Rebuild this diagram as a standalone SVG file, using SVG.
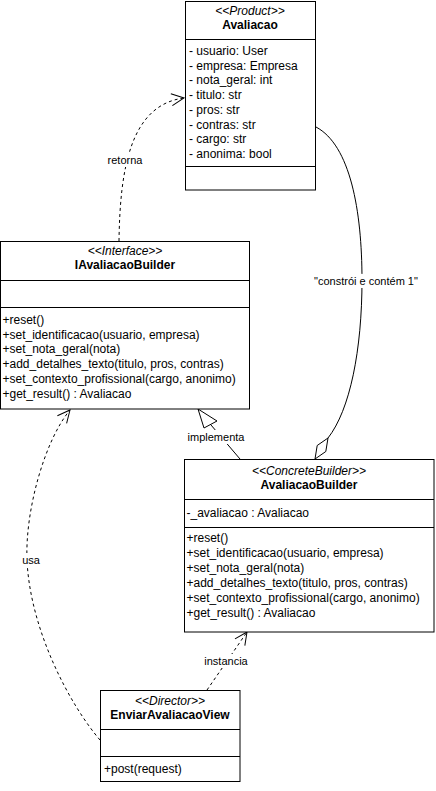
<svg xmlns="http://www.w3.org/2000/svg" width="436" height="791" viewBox="0 0 436 791">
<style>
text{font-family:"Liberation Sans",Arial,sans-serif;font-size:12px;fill:#000}
.st{font-style:italic;text-anchor:middle}
.nm{font-weight:bold;text-anchor:middle}
.lb{font-size:11px;text-anchor:middle}
.box{fill:#fff;stroke:#000;stroke-width:1}
.div{stroke:#000;stroke-width:1}
.ln{fill:none;stroke:#000;stroke-width:1}
.dash{stroke-dasharray:3 3}
.bg{fill:#fff}
</style>
<defs>
<marker id="open" markerUnits="userSpaceOnUse" markerWidth="16" markerHeight="14" refX="13" refY="6.5" orient="auto" overflow="visible">
<path d="M0.5,0.5 L13,6.5 L0.5,12.5" fill="none" stroke="#000" stroke-width="1" stroke-dasharray="none"/>
</marker>
</defs>

<g id="connectors">
<g id="retorna">
<path class="ln dash" d="M119,241 C120,170 130,105 184,98" marker-end="url(#open)"/>
<rect class="bg" x="106" y="153" width="38" height="14"/>
<text class="lb" x="125" y="164">retorna</text>
</g>
<g id="composicao">
<path class="ln" d="M316,127 C350,145 362,210 362,280 C362,350 350,410 328,438"/>
<polygon points="328,438 325.8,451.5 315,459 317.2,445.5" fill="#fff" stroke="#000" stroke-width="1"/>
<rect class="bg" x="308" y="274" width="116" height="14"/>
<text class="lb" x="366" y="285">"constrói e contém 1"</text>
</g>
<g id="implementa">
<path class="ln" d="M211,425 L240,459"/>
<polygon points="198,409 217,421 204,428" fill="#fff" stroke="#000" stroke-width="1"/>
<rect class="bg" x="186" y="430" width="61" height="14"/>
<text class="lb" x="216" y="441">implementa</text>
</g>
<g id="instancia">
<path class="ln dash" d="M207,690 L247,632" marker-end="url(#open)"/>
<rect class="bg" x="203" y="654" width="46" height="14"/>
<text class="lb" x="226" y="665">instancia</text>
</g>
<g id="usa">
<path class="ln dash" d="M100,740 C70,705 30,630 27,560 C25,510 45,440 70,410" marker-end="url(#open)"/>
<rect class="bg" x="20" y="553" width="22" height="14"/>
<text class="lb" x="31" y="564">usa</text>
</g>
</g>

<g id="Avaliacao">
<rect class="box" x="185.5" y="1.5" width="130" height="188.5"/>
<line class="div" x1="185.5" y1="39.5" x2="315.5" y2="39.5"/>
<line class="div" x1="185.5" y1="166.5" x2="315.5" y2="166.5"/>
<text class="st" x="250" y="15">&lt;&lt;Product&gt;&gt;</text>
<text class="nm" x="250" y="29">Avaliacao</text>
<text x="189" y="55">- usuario: User</text>
<text x="189" y="69.7">- empresa: Empresa</text>
<text x="189" y="84.4">- nota_geral: int</text>
<text x="189" y="99.1">- titulo: str</text>
<text x="189" y="113.8">- pros: str</text>
<text x="189" y="128.5">- contras: str</text>
<text x="189" y="143.2">- cargo: str</text>
<text x="189" y="157.9">- anonima: bool</text>
</g>

<g id="IAvaliacaoBuilder">
<rect class="box" x="0.5" y="241.5" width="249" height="167.5"/>
<line class="div" x1="0.5" y1="280.5" x2="249.5" y2="280.5"/>
<line class="div" x1="0.5" y1="307.5" x2="249.5" y2="307.5"/>
<text class="st" x="125" y="255">&lt;&lt;Interface&gt;&gt;</text>
<text class="nm" x="125" y="269">IAvaliacaoBuilder</text>
<text x="2.5" y="324">+reset()</text>
<text x="2.5" y="338.7">+set_identificacao(usuario, empresa)</text>
<text x="2.5" y="353.4">+set_nota_geral(nota)</text>
<text x="2.5" y="368.1">+add_detalhes_texto(titulo, pros, contras)</text>
<text x="2.5" y="382.8">+set_contexto_profissional(cargo, anonimo)</text>
<text x="2.5" y="397.5">+get_result() : Avaliacao</text>
</g>

<g id="AvaliacaoBuilder">
<rect class="box" x="184.5" y="459.5" width="249.5" height="172.5"/>
<line class="div" x1="184.5" y1="499.5" x2="434" y2="499.5"/>
<line class="div" x1="184.5" y1="527.5" x2="434" y2="527.5"/>
<text class="st" x="309" y="475">&lt;&lt;ConcreteBuilder&gt;&gt;</text>
<text class="nm" x="309" y="489">AvaliacaoBuilder</text>
<text x="186.5" y="517">-_avaliacao : Avaliacao</text>
<text x="186.5" y="542">+reset()</text>
<text x="186.5" y="557">+set_identificacao(usuario, empresa)</text>
<text x="186.5" y="572">+set_nota_geral(nota)</text>
<text x="186.5" y="587">+add_detalhes_texto(titulo, pros, contras)</text>
<text x="186.5" y="602">+set_contexto_profissional(cargo, anonimo)</text>
<text x="186.5" y="617">+get_result() : Avaliacao</text>
</g>

<g id="EnviarAvaliacaoView">
<rect class="box" x="100.5" y="690.5" width="139.5" height="91"/>
<line class="div" x1="100.5" y1="729.5" x2="240" y2="729.5"/>
<line class="div" x1="100.5" y1="756.5" x2="240" y2="756.5"/>
<text class="st" x="170" y="705">&lt;&lt;Director&gt;&gt;</text>
<text class="nm" x="170" y="719">EnviarAvaliacaoView</text>
<text x="104" y="773">+post(request)</text>
</g>
</svg>
